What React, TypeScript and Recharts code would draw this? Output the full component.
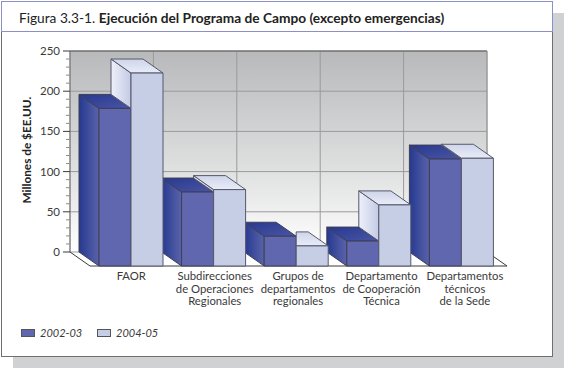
import { Bar, BarChart, CartesianGrid, XAxis, YAxis, usePlotArea } from 'recharts';

const categorias = [
  'FAOR',
  'Subdirecciones\nde Operaciones\nRegionales',
  'Grupos de\ndepartamentos\nregionales',
  'Departamento\nde Cooperación\nTécnica',
  'Departamentos\ntécnicos\nde la Sede',
];
const valores2002 = [196, 92, 37, 31, 133];
const valores2004 = [240, 95, 25, 76, 134];
const marcasY = [0, 10, 20, 30, 40, 50, 60, 70, 80, 90, 100, 110, 120, 130, 140, 150, 160, 170, 180, 190, 200, 210, 220, 230, 240, 250];

const datos = categorias.map((nombre, i) => ({
  nombre,
  oscuro: valores2002[i],
  claro: valores2004[i],
}));

// desplazamiento de la cara frontal respecto a la pared del fondo
const DX = 20;
const DY = 14;
const FUENTE = 'Lato, sans-serif';
const TEXTO = '#3a3a3a';

function caja(x: number, y: number, w: number, h: number) {
  const fx = x + DX;
  const fy = y + DY;
  return { fx, fy, w, h, x, y };
}

function BarraOscura(props: any) {
  const { fx, fy, w, h, x, y } = caja(props.x, props.y, props.width, props.height);
  return (
    <g stroke="#3e3f55" strokeWidth={1} strokeLinejoin="round">
      <polygon points={`${x},${y} ${fx},${fy} ${fx},${fy + h} ${x},${y + h}`} fill="url(#ladoOscuro)" />
      <polygon points={`${x},${y} ${x + w},${y} ${fx + w},${fy} ${fx},${fy}`} fill="url(#techoOscuro)" />
      <rect x={fx} y={fy} width={w} height={h} fill="#6067ae" />
    </g>
  );
}

function BarraClara(props: any) {
  const { fx, fy, w, h, x, y } = caja(props.x, props.y, props.width, props.height);
  const base = y + h;
  const alturaOscura = props.value ? (props.payload.oscuro * h) / props.payload.claro : 0;
  const yOscura = base - alturaOscura;
  const sobresale = alturaOscura < h;
  return (
    <g stroke="#55586a" strokeWidth={1} strokeLinejoin="round">
      {sobresale && (
        <polygon points={`${x},${y} ${fx},${fy} ${fx},${yOscura + DY} ${x},${yOscura}`} fill="url(#ladoClaro)" />
      )}
      <polygon
        points={
          sobresale
            ? `${x},${y} ${x + w},${y} ${fx + w},${fy} ${fx},${fy}`
            : `${fx},${y} ${x + w},${y} ${fx + w},${fy} ${fx},${fy}`
        }
        fill="url(#techoClaro)"
      />
      <rect x={fx} y={fy} width={w} height={h} fill="#c6cee6" />
    </g>
  );
}

function Piso() {
  const area = usePlotArea();
  if (!area) return null;
  const izq = area.x;
  const der = area.x + area.width;
  const arriba = area.y;
  const abajo = area.y + area.height;
  return (
    <g stroke="#3a3a3a" strokeWidth={1} fill="none">
      <polyline points={`${izq},${abajo} ${izq + DX},${abajo + DY} ${der + DX},${abajo + DY} ${der},${abajo}`} />
      <line x1={izq} y1={arriba} x2={der} y2={arriba} stroke="#5a5a5a" />
      <line x1={izq} y1={arriba} x2={izq} y2={abajo} stroke="#777" />
      <line x1={der} y1={arriba} x2={der} y2={abajo} stroke="#999" />
    </g>
  );
}

function MarcaY(props: any) {
  const { y, payload } = props;
  const principal = payload.value % 50 === 0;
  return (
    <g>
      <line
        x1={principal ? 63 : 66}
        x2={70}
        y1={y}
        y2={y}
        stroke={principal ? '#3a3a3a' : '#8a8a8a'}
      />
      {principal && (
        <text x={60} y={y} dy={4} textAnchor="end" fontFamily={FUENTE} fontSize={11.5} fill={TEXTO}>
          {payload.value}
        </text>
      )}
    </g>
  );
}

function MarcaX(props: any) {
  const { x, payload, index } = props;
  const lineas = String(payload.value).split('\n');
  return (
    <text textAnchor="middle" fontFamily={FUENTE} fontSize={11.3} fill={TEXTO}>
      {lineas.map((linea, i) => (
        <tspan key={i} x={x + DX + index * 0.8} y={280 + i * 12.5}>
          {linea}
        </tspan>
      ))}
    </text>
  );
}

function Muestra({ color, etiqueta, left }: { color: string; etiqueta: string; left: number }) {
  return (
    <>
      <div
        style={{
          position: 'absolute',
          left,
          top: 329,
          width: 12,
          height: 6,
          background: color,
          border: '1px solid #555',
        }}
      />
      <div
        style={{
          position: 'absolute',
          left: left + 19,
          top: 325,
          fontFamily: FUENTE,
          fontStyle: 'italic',
          fontSize: 11,
          lineHeight: '15px',
          color: TEXTO,
        }}
      >
        {etiqueta}
      </div>
    </>
  );
}

export default function App() {
  return (
    <div style={{ position: 'absolute', left: 0, top: 0, width: 564, height: 368, background: '#fff', overflow: 'hidden' }}>
      <div style={{ position: 'absolute', left: 13, top: 13, width: 551, height: 355, background: '#d0d1d3' }} />
      <div
        style={{
          position: 'absolute',
          left: 1,
          top: 1,
          width: 550,
          height: 354,
          background: '#fff',
          border: '1px solid #6f6f6f',
        }}
      />
      <div
        style={{
          position: 'absolute',
          left: 1,
          top: 1,
          width: 550,
          height: 29,
          background: '#fff',
          border: '1px solid #8d90c8',
        }}
      />
      <div
        style={{
          position: 'absolute',
          left: 19,
          top: 10,
          fontFamily: FUENTE,
          fontSize: 13.7,
          lineHeight: '16px',
          color: '#222',
          whiteSpace: 'nowrap',
        }}
      >
        Figura 3.3-1. <b>Ejecución del Programa de Campo (excepto emergencias)</b>
      </div>

      <div style={{ position: 'absolute', left: 0, top: 0 }}>
        <BarChart
          width={564}
          height={368}
          data={datos}
          margin={{ top: 51, right: 77, left: 30, bottom: 56 }}
          barSize={32}
          barGap={0}
        >
          <defs>
            <linearGradient id="pared" x1="0" y1="0" x2="0" y2="1">
              <stop offset="0%" stopColor="#b8b9bb" />
              <stop offset="55%" stopColor="#dcdddd" />
              <stop offset="100%" stopColor="#ffffff" />
            </linearGradient>
            <linearGradient id="ladoOscuro" x1="0" y1="0" x2="1" y2="0">
              <stop offset="0%" stopColor="#25398f" />
              <stop offset="100%" stopColor="#5a63aa" />
            </linearGradient>
            <linearGradient id="techoOscuro" x1="0" y1="0" x2="1" y2="1">
              <stop offset="0%" stopColor="#27398f" />
              <stop offset="100%" stopColor="#4a55a4" />
            </linearGradient>
            <linearGradient id="ladoClaro" x1="0" y1="0" x2="1" y2="0">
              <stop offset="0%" stopColor="#eef0fa" />
              <stop offset="100%" stopColor="#c3cae4" />
            </linearGradient>
            <linearGradient id="techoClaro" x1="0" y1="0" x2="0" y2="1">
              <stop offset="0%" stopColor="#cfd5ea" />
              <stop offset="100%" stopColor="#e9ecf8" />
            </linearGradient>
          </defs>
          <CartesianGrid
            fill="url(#pared)"
            fillOpacity={1}
            stroke="#9a9a9a"
            horizontalCoordinatesGenerator={({ offset }: any) =>
              [0, 1, 2, 3, 4, 5].map((i) => offset.top + (offset.height * i) / 5)
            }
            verticalCoordinatesGenerator={({ offset }: any) =>
              [0, 1, 2, 3, 4, 5].map((i) => offset.left + (offset.width * i) / 5)
            }
          />
          <Piso />
          <XAxis
            dataKey="nombre"
            interval={0}
            axisLine={false}
            tickLine={false}
            height={60}
            padding={{ left: 0, right: 4 }}
            tick={<MarcaX />}
          />
          <YAxis
            width={40}
            domain={[0, 250]}
            ticks={marcasY}
            interval={0}
            axisLine={false}
            tickLine={false}
            tick={<MarcaY />}
            label={{
              value: 'Millones de $EE.UU.',
              angle: -90,
              position: 'insideLeft',
              offset: -3,
              dy: 52,
              style: { fontFamily: FUENTE, fontSize: 11.8, fontWeight: 700, fill: '#222' },
            }}
          />
          <Bar dataKey="oscuro" isAnimationActive={false} shape={<BarraOscura />} />
          <Bar dataKey="claro" isAnimationActive={false} shape={<BarraClara />} />
        </BarChart>
      </div>

      <Muestra color="#6067ae" etiqueta="2002-03" left={21} />
      <Muestra color="#c6cee6" etiqueta="2004-05" left={97} />
    </div>
  );
}
